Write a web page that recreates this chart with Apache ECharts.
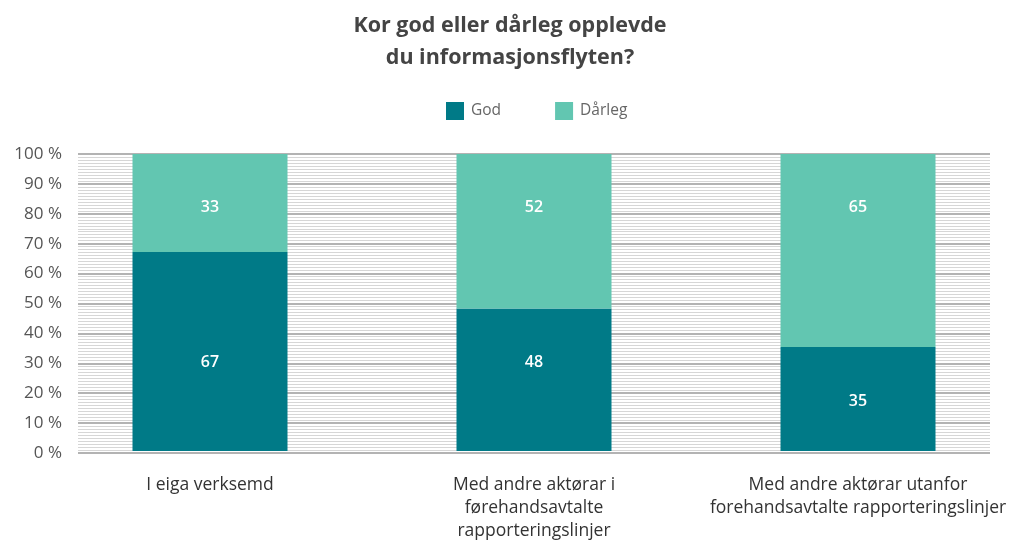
<!DOCTYPE html>
<html><head><meta charset="utf-8">
<script src="https://cdn.jsdelivr.net/npm/echarts@6/dist/echarts.min.js"></script>
<style>html,body{margin:0;padding:0;background:#fff}#c{width:1020px;height:543px}</style>
</head><body><div id="c"></div>
<script>
var categories = ["I eiga verksemd", "Med andre aktørar i\nførehandsavtalte\nrapporteringslinjer", "Med andre aktørar utanfor\nforehandsavtalte rapporteringslinjer"];
var god = [67, 48, 35];
var darleg = [33, 52, 65];
var seriesNames = ["God", "Dårleg"];
var titleText = "Kor god eller dårleg opplevde\ndu informasjonsflyten?";

var FONT = "Open Sans";
var godLabelDist = [102, 46, 46];
var chart = echarts.init(document.getElementById('c'));
chart.setOption({
  animation: false,
  textStyle: {fontFamily: FONT},
  title: {text: titleText, left: 'center', top: 5,
    textStyle: {fontSize: 21.5, fontWeight: 'bold', color: '#444', lineHeight: 32, fontFamily: FONT}},
  legend: {top: 97, left: 441, itemWidth: 18, itemHeight: 18, itemGap: 54,
    icon: 'rect', textStyle: {fontSize: 15.5, color: '#666', fontFamily: FONT, padding: [0, 0, 0, 2]}, data: seriesNames},
  grid: [
    {left: 78, right: 30, top: 154, bottom: 90},
    {left: 48, width: 976, top: 154, bottom: 90}
  ],
  xAxis: [
    {gridIndex: 0, type: 'value', show: false, min: 0, max: 1},
    {gridIndex: 1, type: 'category', data: categories,
      axisLine: {show: false}, axisTick: {show: false},
      axisLabel: {interval: 0, hideOverlap: false, fontSize: 17.5, color: '#333', lineHeight: 23, margin: 23, fontFamily: FONT}}
  ],
  yAxis: [
    {gridIndex: 0, type: 'value', min: 0, max: 100, interval: 10,
      axisLine: {show: false}, axisTick: {show: false},
      axisLabel: {formatter: '{value} %', fontSize: 17, color: '#555', margin: 16, fontFamily: FONT},
      splitLine: {show: true, lineStyle: {color: '#9a9a9a', width: 1.5}},
      minorTick: {show: false, splitNumber: 10},
      minorSplitLine: {show: true, lineStyle: {color: '#d6d6d6', width: 1}}},
    {gridIndex: 1, type: 'value', min: 0, max: 100, show: false}
  ],
  series: [
    {name: seriesNames[0], type: 'bar', stack: 's', xAxisIndex: 1, yAxisIndex: 1, barWidth: 155,
      itemStyle: {color: '#007A87'},
      data: god.map(function (v, i) {
        return {value: v, label: {show: true, position: 'insideTop', distance: godLabelDist[i],
          color: '#fff', fontSize: 16, fontWeight: 600, fontFamily: FONT}};
      })},
    {name: seriesNames[1], type: 'bar', stack: 's', xAxisIndex: 1, yAxisIndex: 1, barWidth: 155,
      itemStyle: {color: '#62C6B1'},
      label: {show: true, position: 'insideTop', distance: 45, color: '#fff', fontSize: 16, fontWeight: 600, fontFamily: FONT},
      data: darleg}
  ]
});
</script></body></html>
